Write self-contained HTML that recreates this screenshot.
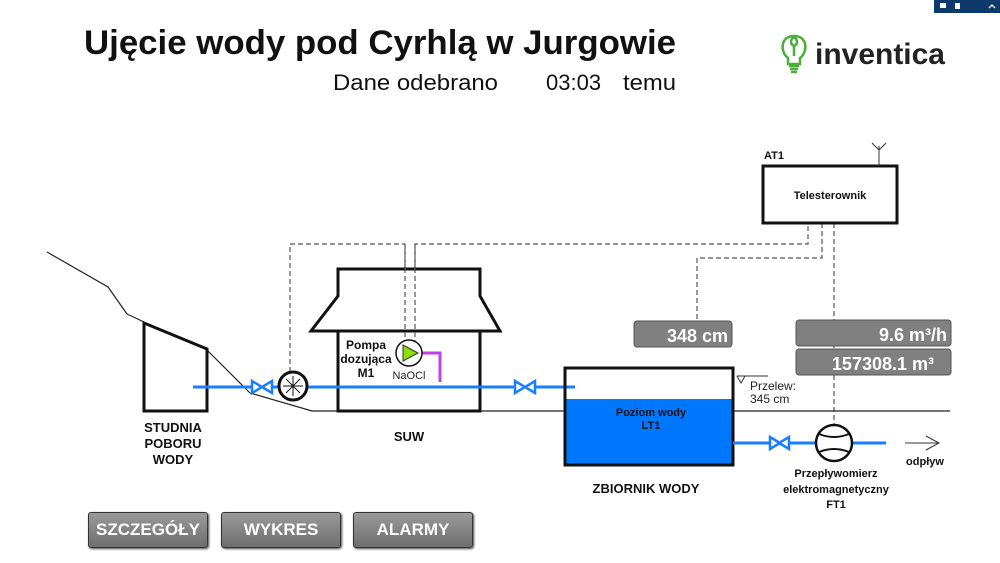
<!DOCTYPE html>
<html><head><meta charset="utf-8"><style>
body{margin:0;width:1000px;height:563px;background:#fff;overflow:hidden;position:relative;font-family:"Liberation Sans",sans-serif}
.btn{position:absolute;top:512px;width:118px;height:34px;border:1px solid #333;border-radius:3px;background:linear-gradient(#9a9a9a,#6e6e6e);color:#fff;font-weight:bold;font-size:17px;text-align:center;line-height:34px;box-shadow:1px 1px 2px #444}
</style></head><body>
<svg width="1000" height="563" style="position:absolute;left:0;top:0" font-family="Liberation Sans, sans-serif">
<rect x="934" y="0" width="66" height="13" fill="#0e3a6b"/>
<rect x="940" y="3" width="6" height="5" fill="#fff"/><rect x="955" y="3" width="5" height="6" fill="#fff"/>
<path d="M989 8l3-3 3 3" stroke="#fff" fill="none" stroke-width="1.3"/>
<text x="84" y="54" font-size="34" font-weight="bold" fill="#111" textLength="592" lengthAdjust="spacingAndGlyphs">Ujęcie wody pod Cyrhlą w Jurgowie</text>
<text x="333" y="90" font-size="22" fill="#111" textLength="165" lengthAdjust="spacingAndGlyphs">Dane odebrano</text>
<text x="546" y="90" font-size="22" fill="#111">03:03</text>
<text x="623" y="90" font-size="22" fill="#111" textLength="53" lengthAdjust="spacingAndGlyphs">temu</text>
<!-- logo -->
<g stroke="#4caf3a" stroke-width="2.5" fill="none">
<path d="M788 58c-8-6-8-22 6-22s14 16 6 22v6h-12z"/>
<path d="M794 56v-10c-4-2-4-6 0-9 4 3 4 7 0 9"/>
<path d="M789 66h10M790 69h8M791 72h6"/></g>
<text x="815" y="64" font-size="30" font-weight="bold" fill="#222" textLength="130" lengthAdjust="spacingAndGlyphs">inventica</text>
<!-- dashed -->
<g stroke="#555" stroke-width="1.2" fill="none" stroke-dasharray="5,3">
<path d="M290 372V244H405V342"/><path d="M415 342V244H808V223"/>
<path d="M822 223V258H697V320"/><path d="M834 223V425"/>
</g>
<!-- ground -->
<g stroke="#222" stroke-width="1.2" fill="none">
<path d="M47 252L108 287L127 314L144 322"/><path d="M207 350L250 393L312 411H338"/>
<path d="M480 411H565M733 411H950"/>
</g>
<!-- well -->
<path d="M144 323L207 349V411H144Z" fill="#fff" stroke="#111" stroke-width="3"/>
<!-- SUW -->
<path d="M338 269H480V296L500 331H311L338 296Z" fill="#fff" stroke="#111" stroke-width="3"/>
<rect x="338" y="331" width="142" height="80" fill="#fff" stroke="#111" stroke-width="3"/>
<path d="M405 244V342M415 244V342" stroke="#555" stroke-width="1.2" stroke-dasharray="5,3"/>
<!-- pipe -->
<path d="M193 387H575" stroke="#1a7fff" stroke-width="3"/>
<path d="M252 381v12l10-6zM272 381v12l-10-6z" fill="#fff" stroke="#1a7fff" stroke-width="2.5"/>
<path d="M515 381v12l10-6zM535 381v12l-10-6z" fill="#fff" stroke="#1a7fff" stroke-width="2.5"/>
<circle cx="293" cy="386" r="14" fill="#fff" stroke="#111" stroke-width="3"/>
<path d="M283 386h20M293 376v20M286 379l14 14M300 379l-14 14" stroke="#111" stroke-width="1"/>
<path d="M422 353H440V382" stroke="#c040f0" stroke-width="3" fill="none"/>
<circle cx="409" cy="353" r="13" fill="#fff" stroke="#111" stroke-width="1.5"/>
<path d="M403 345L403 361L418 353Z" fill="#8ee000" stroke="#333"/>
<text x="409" y="379" font-size="11" text-anchor="middle" fill="#222">NaOCl</text>
<g font-size="12" font-weight="bold" text-anchor="middle" fill="#111">
<text x="366" y="349">Pompa</text><text x="366" y="363">dozująca</text><text x="366" y="377">M1</text>
<text x="173" y="432" font-size="13">STUDNIA</text><text x="173" y="448" font-size="13">POBORU</text><text x="173" y="464" font-size="13">WODY</text>
<text x="409" y="441" font-size="13">SUW</text>
<text x="646" y="493" font-size="13">ZBIORNIK WODY</text>
<text x="836" y="477" font-size="11">Przepływomierz</text><text x="836" y="493" font-size="11">elektromagnetyczny</text><text x="836" y="508" font-size="11">FT1</text>
<text x="925" y="465" font-size="11">odpływ</text>
</g>
<!-- tank -->
<rect x="565" y="399" width="168" height="66" fill="#0077ff"/>
<rect x="565" y="368" width="168" height="97" fill="none" stroke="#111" stroke-width="3"/>
<text x="651" y="416" font-size="11" font-weight="bold" text-anchor="middle" fill="#111">Poziom wody</text>
<text x="651" y="429" font-size="11" font-weight="bold" text-anchor="middle" fill="#111">LT1</text>
<path d="M737 376H768M737 376l4 7 4-7" stroke="#333" fill="none"/>
<text x="750" y="390" font-size="12" fill="#222">Przelew:</text><text x="750" y="403" font-size="12" fill="#222">345 cm</text>
<path d="M733 443H886" stroke="#1a7fff" stroke-width="3"/>
<path d="M770 437v12l10-6zM789 437v12l-10-6z" fill="#fff" stroke="#1a7fff" stroke-width="2.5"/>
<circle cx="834" cy="443" r="18" fill="#fff" stroke="#111" stroke-width="2.5"/>
<path d="M819 434q15 6 30 0M819 452q15-6 30 0" stroke="#111" stroke-width="2" fill="none"/>
<path d="M905 443H939M926 436l13 7-13 7" stroke="#333" fill="none"/>
<!-- telesterownik -->
<rect x="763" y="166" width="134" height="57" fill="#fff" stroke="#111" stroke-width="3"/>
<text x="830" y="199" font-size="11" font-weight="bold" text-anchor="middle" fill="#111">Telesterownik</text>
<text x="764" y="159" font-size="11" font-weight="bold" fill="#111">AT1</text>
<path d="M879 166V146M872 143l7 7 7-7" stroke="#333" fill="none"/>
<!-- value boxes -->
<g fill="#808080" stroke="#555"><rect x="634" y="321" width="98" height="26" rx="3"/><rect x="796" y="320" width="155" height="26" rx="3"/><rect x="796" y="349" width="155" height="26" rx="3"/></g>
<g fill="#fff" font-weight="bold" font-size="18" text-anchor="end">
<text x="728" y="342">348 cm</text><text x="947" y="341">9.6  m³/h</text><text x="934" y="370">157308.1  m³</text></g>
</svg>
<div class="btn" style="left:88px">SZCZEGÓŁY</div>
<div class="btn" style="left:221px">WYKRES</div>
<div class="btn" style="left:353px">ALARMY</div>
</body></html>
